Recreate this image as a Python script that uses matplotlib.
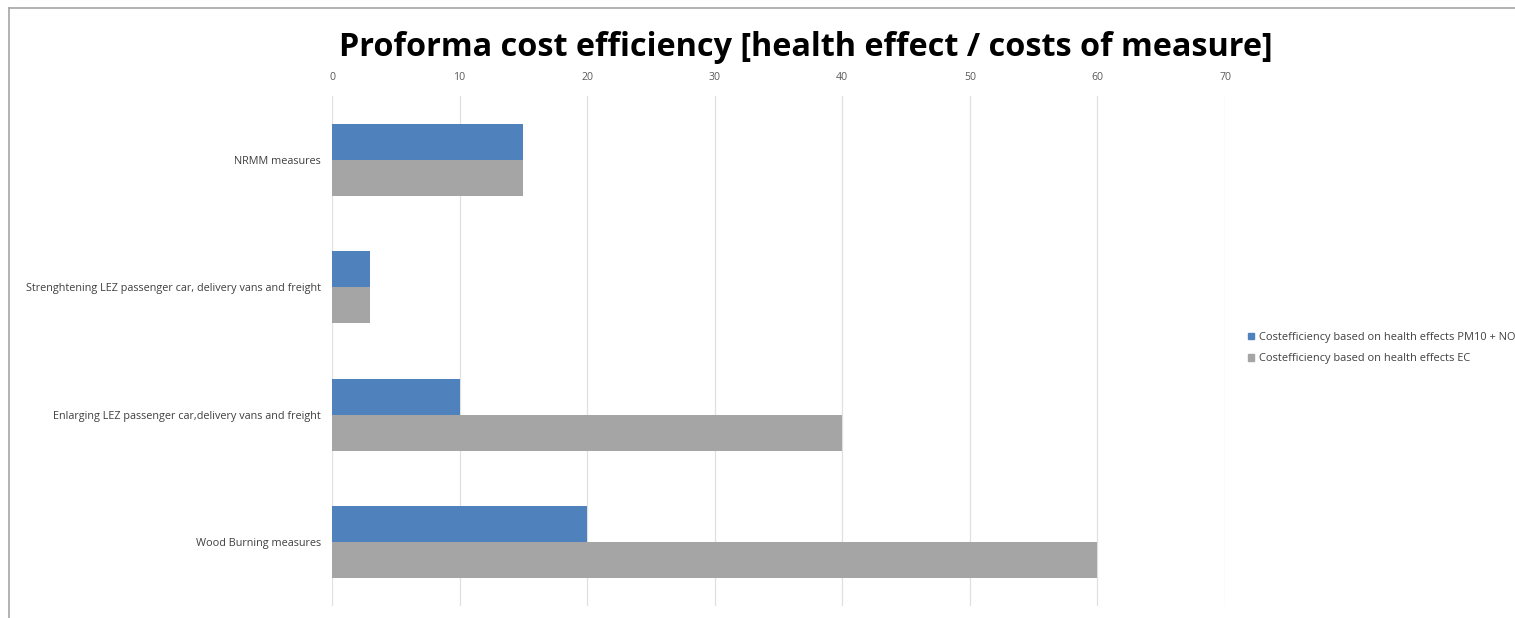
import matplotlib
matplotlib.use("Agg")
import matplotlib.pyplot as plt
import numpy as np
from matplotlib.patches import Patch
from matplotlib.lines import Line2D

categories = ["NRMM measures",
              "Strenghtening LEZ passenger car, delivery vans and freight",
              "Enlarging LEZ passenger car,delivery vans and freight",
              "Wood Burning measures"]
series_names = ["Costefficiency based on health effects PM10 + NO2",
                "Costefficiency based on health effects EC"]
pm10_no2 = [15, 3, 10, 20]
ec = [15, 3, 40, 60]
xticks = [0, 10, 20, 30, 40, 50, 60, 70]
title = "Proforma cost efficiency [health effect / costs of measure]"

plt.rcParams['font.family'] = ['Open Sans', 'DejaVu Sans']

W, H = 1515, 618
fig = plt.figure(figsize=(W / 100, H / 100), dpi=100)
fig.patch.set_facecolor("white")

ax = fig.add_axes([332 / W, 1 - 606 / H, (1225 - 332) / W, (606 - 96) / H])

y = np.arange(len(categories))
bw = 0.283
blue = "#4f81bd"
gray = "#a5a5a5"
ax.barh(y - bw / 2, pm10_no2, height=bw, color=blue, zorder=3)
ax.barh(y + bw / 2, ec, height=bw, color=gray, zorder=3)

ax.set_xlim(0, 70)
ax.set_ylim(len(categories) - 0.5, -0.5)
ax.set_xticks(xticks)
ax.xaxis.tick_top()
ax.tick_params(axis='x', length=0, pad=9, labelsize=7.6, labelcolor="#595959")
ax.set_yticks(y)
ax.set_yticklabels(categories)
ax.tick_params(axis='y', length=0, pad=8, labelsize=7.85, labelcolor="#404040")
ax.grid(axis='x', color="#e0e0e0", linewidth=0.9, zorder=0)
for s in ax.spines.values():
    s.set_visible(False)

fig.text(806 / W, 1 - 47 / H, title, ha="center", va="center",
         fontsize=23.3, fontweight="bold", color="black")

handles = [Patch(color=blue), Patch(color=gray)]
fig.legend(handles, series_names, loc="upper left",
           bbox_to_anchor=(1238 / W, 1 - 322 / H), frameon=False,
           fontsize=7.9, handlelength=0.55, handleheight=0.55,
           handletextpad=0.45, labelspacing=0.95, labelcolor="#404040")

# outer chart border (top and left visible)
fig.add_artist(Line2D([9 / W, 9 / W], [1 - 8 / H, 0], color="#a6a6a6", lw=1.2,
                      transform=fig.transFigure))
fig.add_artist(Line2D([9 / W, 1], [1 - 8 / H, 1 - 8 / H], color="#a6a6a6", lw=1.2,
                      transform=fig.transFigure))

fig.savefig("out.png", dpi=100)
